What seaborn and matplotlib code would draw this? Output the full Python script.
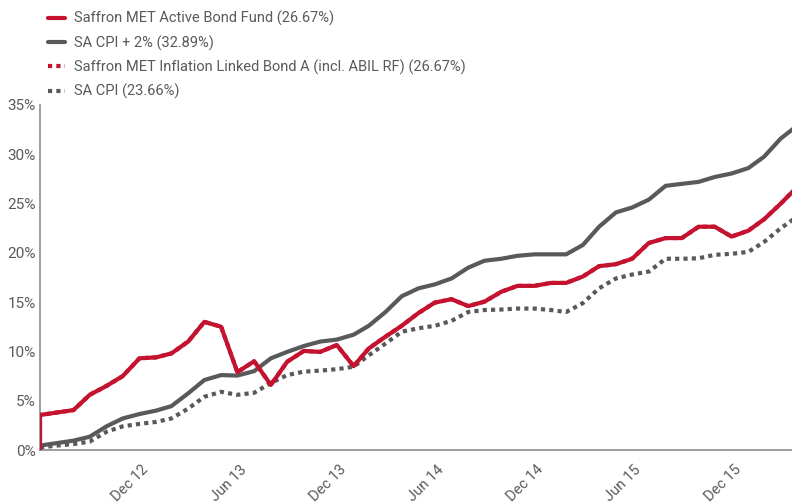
import pandas as pd
import numpy as np
import matplotlib
matplotlib.use("Agg")
import matplotlib.pyplot as plt
import matplotlib.transforms as mtransforms
from matplotlib.lines import Line2D
import seaborn as sns

# Monthly cumulative returns (%), Jun 2012 - Apr 2016
dates = pd.date_range("2012-06-30", periods=47, freq="ME")

active_bond = [3.55, 3.8, 4.05, 5.6, 6.5, 7.5, 9.3, 9.4, 9.8, 11.0,
               13.0, 12.5, 7.9, 9.0, 6.6, 8.95, 10.05, 9.95, 10.65, 8.5,
               10.3, 11.5, 12.6, 13.9, 14.95, 15.3, 14.6, 15.05, 16.05, 16.65,
               16.65, 16.95, 16.95, 17.6, 18.65, 18.85, 19.4, 21.0, 21.5, 21.5,
               22.65, 22.65, 21.65, 22.25, 23.4, 25.0, 26.67]
cpi_plus2 = [0.45, 0.7, 0.95, 1.35, 2.4, 3.2, 3.65, 4.0, 4.45, 5.75,
             7.1, 7.6, 7.55, 8.0, 9.3, 9.95, 10.55, 11.0, 11.2, 11.7,
             12.6, 14.0, 15.6, 16.4, 16.8, 17.4, 18.5, 19.2, 19.4, 19.7,
             19.85, 19.85, 19.85, 20.8, 22.65, 24.1, 24.6, 25.4, 26.8, 27.0,
             27.2, 27.7, 28.05, 28.6, 29.75, 31.6, 32.89]
cpi = [0.25, 0.45, 0.6, 0.85, 1.85, 2.4, 2.65, 2.85, 3.2, 4.2,
       5.4, 5.9, 5.6, 5.8, 6.8, 7.6, 7.95, 8.05, 8.2, 8.45,
       9.6, 10.8, 12.0, 12.35, 12.6, 13.1, 14.0, 14.2, 14.25, 14.35,
       14.35, 14.2, 14.0, 14.9, 16.4, 17.4, 17.8, 18.1, 19.4, 19.4,
       19.45, 19.8, 19.9, 20.1, 21.1, 22.5, 23.66]
# inflation linked bond ends on the same line as the active bond fund
inflation_linked = list(active_bond)

labels = ["Saffron MET Active Bond Fund (26.67%)",
          "SA CPI + 2% (32.89%)",
          "Saffron MET Inflation Linked Bond A (incl. ABIL RF) (26.67%)",
          "SA CPI (23.66%)"]
tick_dates = pd.to_datetime(["2012-12-31", "2013-06-30", "2013-12-31", "2014-06-30",
                             "2014-12-31", "2015-06-30", "2015-12-31"])
tick_labels = ["Dec 12", "Jun 13", "Dec 13", "Jun 14", "Dec 14", "Jun 15", "Dec 15"]

RED = "#c4122f"
GREY = "#58595b"
TXT = "#5a5a5a"

sns.set_style("white")
plt.rcParams["font.family"] = ["Roboto", "DejaVu Sans"]

fig = plt.figure(figsize=(7.92, 5.03), dpi=100)
ax = fig.add_axes([40 / 792, 1 - 450 / 503, 757 / 792, 345 / 503])

# red series starts from zero at inception
red_x = [dates[0]] + list(dates)
red_df = pd.DataFrame({"date": red_x, "v": [0.0] + active_bond})
ilb_df = pd.DataFrame({"date": red_x, "v": [0.0] + inflation_linked})
cpi2_df = pd.DataFrame({"date": dates, "v": cpi_plus2})
cpi_df = pd.DataFrame({"date": dates, "v": cpi})

lw = 3.0
sns.lineplot(data=cpi_df, x="date", y="v", ax=ax, color=GREY, lw=lw,
             estimator=None, sort=False, zorder=2)
ax.lines[-1].set_dashes((1, 1))
sns.lineplot(data=cpi2_df, x="date", y="v", ax=ax, color=GREY, lw=lw,
             estimator=None, sort=False, zorder=3)
sns.lineplot(data=ilb_df, x="date", y="v", ax=ax, color=RED, lw=lw,
             estimator=None, sort=False, zorder=3)
ax.lines[-1].set_dashes((1, 1))
sns.lineplot(data=red_df, x="date", y="v", ax=ax, color=RED, lw=lw,
             estimator=None, sort=False, zorder=4)

ax.set_xlim(dates[0], dates[-1])
ax.set_ylim(0, 35)
ax.set_xlabel("")
ax.set_ylabel("")

ax.set_yticks(range(0, 36, 5))
ax.set_yticklabels([f"{v}%" for v in range(0, 36, 5)], fontsize=11, color=TXT)
ax.tick_params(axis="y", length=0, pad=3)

ax.set_xticks(tick_dates)
ax.set_xticklabels(tick_labels, fontsize=10.5, color=TXT, rotation=45,
                   ha="right", rotation_mode="anchor")
ax.tick_params(axis="x", length=4, width=1, color="#8c8c8c", pad=5)
offset = mtransforms.ScaledTranslation(2 / 100, 0, fig.dpi_scale_trans)
for lab in ax.get_xticklabels():
    lab.set_transform(lab.get_transform() + offset)

for side in ["top", "right"]:
    ax.spines[side].set_visible(False)
for side in ["left", "bottom"]:
    ax.spines[side].set_color("#8c8c8c")
    ax.spines[side].set_linewidth(1.2)

handles = [Line2D([], [], color=RED, lw=lw),
           Line2D([], [], color=GREY, lw=lw),
           Line2D([], [], color=RED, lw=lw, dashes=(1, 1)),
           Line2D([], [], color=GREY, lw=lw, dashes=(1, 1))]
leg = fig.legend(handles, labels, loc="upper left", bbox_to_anchor=(42 / 792, 1 - 5 / 503),
                 frameon=False, fontsize=10.5, handlelength=1.2, handletextpad=0.6,
                 labelspacing=0.62, borderaxespad=0)
for t in leg.get_texts():
    t.set_color(TXT)

fig.savefig("out.png", dpi=100)
